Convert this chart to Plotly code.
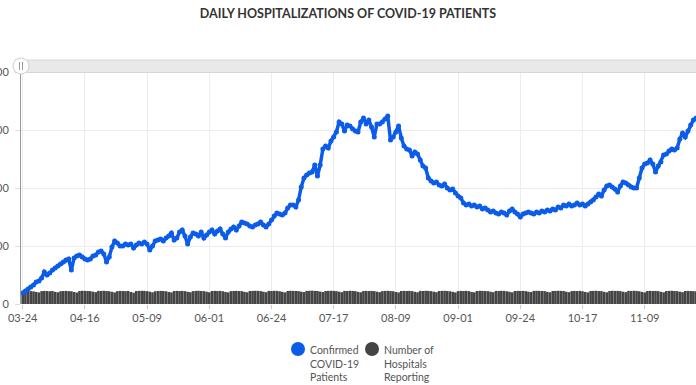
import pandas as pd
import plotly.graph_objects as go

start_date = "2020-03-24"

confirmed_patients = [
    95, 112, 129, 147, 164, 190, 198, 224, 276, 250, 267, 293, 310, 328, 345, 362, 379, 388, 293, 397,
    414, 422, 405, 388, 379, 388, 414, 422, 448, 457, 431, 362, 405, 491, 543, 526, 500,
    500, 517, 509, 517, 483, 509, 526, 517, 534, 517, 466, 500, 543, 552, 560, 543, 569, 586, 612,
    552, 569, 621, 638, 586, 517, 578, 612, 603, 586, 621, 569, 595, 621, 638, 603, 629, 647, 603,
    569, 621, 647, 664, 638, 672, 707, 698, 690, 672, 664, 681, 690, 707, 681, 664, 690, 724, 759,
    784, 776, 767, 784, 828, 853, 853, 836, 896, 1009, 1086, 1112, 1129, 1138, 1198, 1103, 1198,
    1336, 1362, 1345, 1405, 1440, 1483, 1569, 1552, 1491, 1543, 1534, 1509, 1491, 1483, 1569, 1603,
    1552, 1586, 1526, 1440, 1552, 1552, 1569, 1595, 1621, 1414, 1440, 1483, 1534, 1431, 1362, 1336,
    1327, 1276, 1310, 1293, 1241, 1190, 1172, 1086, 1060, 1043, 1052, 1026, 1017, 1034, 1000, 983,
    991, 957, 931, 914, 871, 853, 862, 845, 853, 836, 845, 819, 828, 810, 793, 802, 784, 776, 793,
    784, 767, 802, 819, 793, 776, 750, 776, 784, 793, 784, 776, 793, 784, 802, 793, 810, 802, 819,
    810, 836, 828, 853, 845, 862, 845, 853, 871, 853, 862, 845, 862, 879, 896, 922, 948, 931, 983,
    1017, 1026, 1009, 991, 966, 1017, 1052, 1043, 1026, 1009, 1000, 1000, 1086, 1172, 1207, 1215,
    1241, 1207, 1138, 1190, 1224, 1284, 1293, 1319, 1336, 1327, 1345, 1422, 1474, 1440, 1491, 1543,
    1586, 1603,
]

hospitals_reporting = [
    108, 110, 112, 111, 109, 104, 100, 111, 113, 112,
    110, 112, 105, 101, 110, 112, 113, 111, 110, 104,
    99, 112, 114, 113, 112, 111, 106, 102, 113, 112,
    114, 112, 110, 105, 100, 111, 113, 112, 111, 112,
    104, 98, 112, 113, 114, 113, 111, 106, 101, 110,
    112, 113, 112, 110, 104, 100, 112, 113, 112, 113,
    111, 105, 102, 111, 113, 114, 112, 111, 106, 101,
    112, 113, 112, 113, 110, 104, 100, 111, 112, 113,
    112, 111, 105, 101, 112, 113, 114, 113, 111, 106,
    102, 113, 112, 114, 113, 110, 105, 100, 112, 114,
    113, 112, 111, 106, 103, 113, 114, 115, 113, 112,
    107, 103, 112, 113, 114, 113, 111, 106, 102, 113,
    112, 114, 113, 111, 105, 101, 112, 113, 112, 113,
    111, 106, 102, 111, 113, 114, 112, 110, 104, 100,
    112, 113, 112, 113, 111, 105, 101, 113, 112, 114,
    113, 111, 106, 102, 112, 113, 114, 112, 110, 105,
    100, 111, 113, 112, 113, 111, 104, 101, 112, 114,
    113, 112, 111, 106, 102, 113, 112, 114, 113, 110,
    105, 101, 112, 113, 112, 113, 111, 106, 103, 113,
    114, 113, 112, 111, 105, 101, 112, 113, 114, 113,
    112, 106, 102, 111, 113, 112, 113, 110, 104, 100,
    112, 113, 114, 112, 111, 105, 101, 112, 114, 113,
    113, 111, 106, 102, 113, 112, 114, 113, 110, 104,
    100, 112, 113, 112, 113, 111, 105, 101, 112, 113,
    114, 112, 111, 106, 102, 112, 113, 112, 111, 110,
]

legend_labels = ["Confirmed<br>COVID-19<br>Patients", "Number of<br>Hospitals<br>Reporting"]

n = min(len(confirmed_patients), len(hospitals_reporting))
dates = pd.date_range(start_date, periods=n, freq="D")

BLUE = "#0b5ce8"
GRAY = "#444444"
FONT = "Lato, 'Open Sans', sans-serif"

fig = go.Figure()
fig.add_trace(go.Bar(
    x=dates, y=hospitals_reporting[:n], marker=dict(color=GRAY, line=dict(width=0)),
    name=legend_labels[1], showlegend=False,
))
fig.add_trace(go.Scatter(
    x=dates, y=confirmed_patients[:n], mode="lines+markers",
    line=dict(color=BLUE, width=3.5), marker=dict(color=BLUE, size=5),
    name=legend_labels[0], showlegend=False,
))

L, R, T, B = 21, 0, 72, 81
W, H = 696, 385
pw, ph = W - L - R, H - T - B

def px(xp):
    return (xp - L) / pw

def py(yp):
    return (H - B - yp) / ph

shapes = [
    dict(type="rect", xref="paper", yref="paper", x0=px(15), x1=px(700), y0=py(72.5), y1=py(60),
         fillcolor="#e9e9e9", line=dict(color="#d6d6d6", width=1), layer="above"),
    dict(type="circle", xref="paper", yref="paper", x0=px(13), x1=px(29), y0=py(74), y1=py(58),
         fillcolor="#ffffff", line=dict(color="#cfcfcf", width=1), layer="above"),
    dict(type="line", xref="paper", yref="paper", x0=px(19.5), x1=px(19.5), y0=py(70), y1=py(62),
         line=dict(color="#999999", width=1), layer="above"),
    dict(type="line", xref="paper", yref="paper", x0=px(22.5), x1=px(22.5), y0=py(70), y1=py(62),
         line=dict(color="#999999", width=1), layer="above"),
]

# custom legend (symbol + text), placed below the plot
legend_items = [(298, BLUE, legend_labels[0]), (372, GRAY, legend_labels[1])]
annotations = []
for cx, col, lab in legend_items:
    shapes.append(dict(type="circle", xref="paper", yref="paper",
                       x0=px(cx - 7), x1=px(cx + 7), y0=py(356), y1=py(342),
                       fillcolor=col, line=dict(width=0), layer="above"))
    annotations.append(dict(text=lab, xref="paper", yref="paper",
                            x=px(cx + 10), y=py(342), xanchor="left", yanchor="top",
                            align="left", showarrow=False,
                            font=dict(family=FONT, size=10.5, color="#555555")))

fig.update_layout(
    width=W, height=H,
    margin=dict(l=L, r=R, t=T, b=B, autoexpand=False),
    paper_bgcolor="white", plot_bgcolor="white",
    font=dict(family=FONT, size=11, color="#555555"),
    title=dict(text="<b>DAILY HOSPITALIZATIONS OF COVID-19 PATIENTS</b>",
               x=0.5, xref="container", xanchor="center",
               y=1 - 14 / H, yref="container", yanchor="middle",
               font=dict(family=FONT, size=12.5, color="#333333")),
    bargap=0.04,
    showlegend=False,
    shapes=shapes,
    annotations=annotations,
    xaxis=dict(
        type="date",
        range=[pd.Timestamp(start_date) - pd.Timedelta(hours=15),
               pd.Timestamp(start_date) - pd.Timedelta(hours=15) + pd.Timedelta(days=249.6)],
        tick0=start_date, dtick=23 * 86400000, tickformat="%m-%d",
        showgrid=True, gridcolor="#ececec", gridwidth=1,
        ticks="outside", ticklen=4, tickcolor="#cccccc",
        showline=False, zeroline=False,
        tickfont=dict(size=11, color="#555555"),
        automargin=False, fixedrange=True,
    ),
    yaxis=dict(
        range=[0, 2000], tick0=0, dtick=500,
        showgrid=True, gridcolor="#ececec", gridwidth=1,
        ticks="outside", ticklen=5, tickcolor="#dddddd",
        showline=True, linecolor="#999999", linewidth=1,
        zeroline=False, ticklabelstandoff=4,
        tickfont=dict(size=11, color="#555555"),
        automargin=False, fixedrange=True,
    ),
)

fig.write_html(
    "out.html",
    config={"displayModeBar": False},
    post_script="document.body.style.margin='0';document.body.style.overflow='hidden';",
)
